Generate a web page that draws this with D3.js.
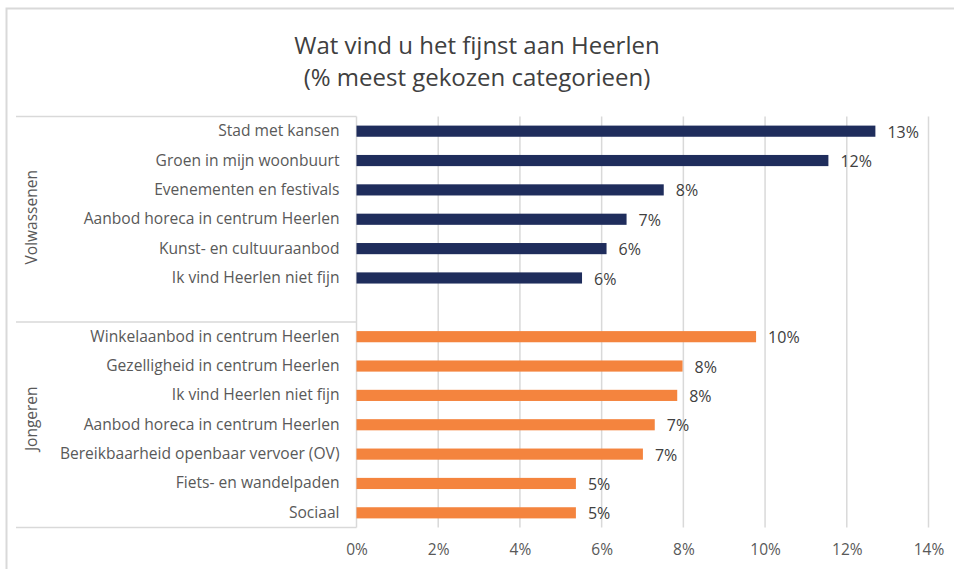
<!DOCTYPE html>
<html>
<head>
<meta charset="utf-8">
<script src="https://cdn.jsdelivr.net/npm/d3@7"></script>
<style>
  body { margin: 0; background: #fff; }
  svg { display: block; font-family: "Open Sans", Lato, sans-serif; }
</style>
</head>
<body>
<svg id="chart" width="954" height="569"></svg>
<script>
// categories per group, top to bottom
const adultCategories = ["Stad met kansen", "Groen in mijn woonbuurt", "Evenementen en festivals",
  "Aanbod horeca in centrum Heerlen", "Kunst- en cultuuraanbod", "Ik vind Heerlen niet fijn"];
const adultValues = [12.7, 11.55, 7.52, 6.61, 6.12, 5.52];

const youthCategories = ["Winkelaanbod in centrum Heerlen", "Gezelligheid in centrum Heerlen",
  "Ik vind Heerlen niet fijn", "Aanbod horeca in centrum Heerlen",
  "Bereikbaarheid openbaar vervoer (OV)", "Fiets- en wandelpaden", "Sociaal"];
const youthValues = [9.78, 7.98, 7.85, 7.3, 7.01, 5.37, 5.37];

const groupNames = ["Volwassenen", "Jongeren"];
const groupColors = ["#1f2d5c", "#f4843e"];
const xTicks = [0, 2, 4, 6, 8, 10, 12, 14];

const titleLines = ["Wat vind u het fijnst aan Heerlen", "(% meest gekozen categorieen)"];

// build rows (with an empty slot after the first group, as in the original)
const rows = [];
adultCategories.forEach((c, i) => rows.push({key: "a" + i, label: c, value: adultValues[i], group: 0}));
rows.push({key: "gap", label: "", value: null, group: 0});
youthCategories.forEach((c, i) => rows.push({key: "j" + i, label: c, value: youthValues[i], group: 1}));

const svg = d3.select("#chart");
const W = 954, H = 569;
const margin = {top: 116.5, left: 356.5, right: 25.5, bottom: 41.5};

const x = d3.scaleLinear().domain([0, 14]).range([margin.left, W - margin.right]);
const y = d3.scaleBand().domain(rows.map(d => d.key))
  .range([margin.top, H - margin.bottom]).paddingInner(0.62).paddingOuter(0.31);

// outer border
svg.append("rect").attr("x", 6.5).attr("y", 8.5).attr("width", W + 10).attr("height", H + 10)
  .attr("fill", "none").attr("stroke", "#d9d9d9").attr("stroke-width", 2);

// title
svg.append("g").selectAll("text").data(titleLines).join("text")
  .attr("x", 477).attr("y", (d, i) => 54 + i * 32)
  .attr("text-anchor", "middle").attr("font-size", 24).attr("fill", "#404040")
  .text(d => d);

// gridlines
svg.append("g").selectAll("line").data(xTicks.slice(1)).join("line")
  .attr("x1", d => x(d)).attr("x2", d => x(d))
  .attr("y1", margin.top).attr("y2", H - margin.bottom)
  .attr("stroke", "#d9d9d9").attr("stroke-width", 1.5);

// x axis labels
const xAxis = d3.axisBottom(x).tickValues(xTicks).tickSize(0).tickPadding(0).tickFormat(d => d + "%");
const gx = svg.append("g").attr("transform", `translate(0,${H - margin.bottom + 16})`).call(xAxis);
gx.select(".domain").remove();
gx.selectAll("text").attr("font-size", 15.5).attr("fill", "#595959").attr("font-family", "'Open Sans', sans-serif");

// group boxes on the left
const step = y.step();
const groupBounds = groupNames.map((g, gi) => {
  const keys = rows.filter(r => r.group === gi).map(r => r.key);
  const top = y(keys[0]) - (step - y.bandwidth()) / 2;
  const bottom = y(keys[keys.length - 1]) + y.bandwidth() + (step - y.bandwidth()) / 2;
  return {name: g, top, bottom};
});
const boxG = svg.append("g").attr("stroke", "#d9d9d9").attr("stroke-width", 1.5);
const hLines = [groupBounds[0].top, groupBounds[0].bottom, groupBounds[1].bottom];
boxG.selectAll("line.h").data(hLines).join("line").attr("class", "h")
  .attr("x1", 16).attr("x2", margin.left).attr("y1", d => d).attr("y2", d => d);
boxG.append("line").attr("x1", margin.left).attr("x2", margin.left)
  .attr("y1", margin.top).attr("y2", H - margin.bottom);

svg.append("g").selectAll("text").data(groupBounds).join("text")
  .attr("transform", (d, i) => `translate(37,${(d.top + d.bottom) / 2 - (i ? 6 : 2)}) rotate(-90)`)
  .attr("text-anchor", "middle").attr("font-size", 15.5).attr("fill", "#595959")
  .text(d => d.name);

// category labels
const yAxis = d3.axisLeft(y).tickSize(0).tickPadding(17).tickFormat(k => rows.find(r => r.key === k).label);
const gy = svg.append("g").attr("transform", `translate(${margin.left},0)`).call(yAxis);
gy.select(".domain").remove();
gy.selectAll("text").attr("font-size", 15.6).attr("fill", "#595959").attr("font-family", "'Open Sans', sans-serif");

// bars
const data = rows.filter(r => r.value !== null);
svg.append("g").selectAll("rect").data(data).join("rect")
  .attr("x", x(0)).attr("y", d => y(d.key))
  .attr("width", d => x(d.value) - x(0)).attr("height", y.bandwidth())
  .attr("fill", d => groupColors[d.group]);

// value labels
svg.append("g").selectAll("text").data(data).join("text")
  .attr("x", d => x(d.value) + 12).attr("y", d => y(d.key) + y.bandwidth() / 2 + 1)
  .attr("dy", "0.35em").attr("font-size", 16).attr("fill", "#404040")
  .text(d => Math.round(d.value) + "%");
</script>
</body>
</html>
